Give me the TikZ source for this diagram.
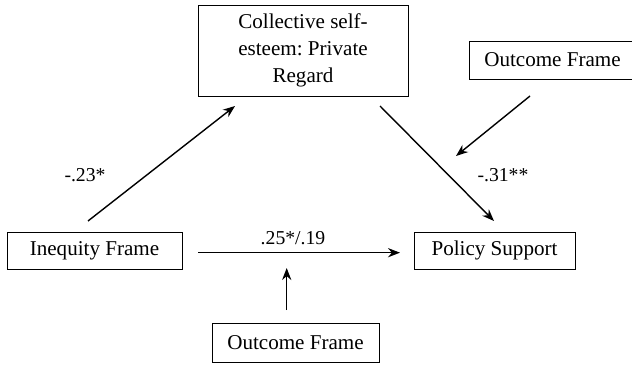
\documentclass[tikz,border=0pt]{standalone}
\usepackage{fontspec}
\setmainfont{Liberation Serif}
\usetikzlibrary{arrows.meta}
\frenchspacing

\begin{document}
\begin{tikzpicture}
\tikzstyle{every node}=[font=\fontsize{15}{19}\selectfont]
\tikzstyle{framebox}=[draw, line width=0.6pt, inner sep=0pt, align=center]
\tikzstyle{coef}=[font=\fontsize{14}{17}\selectfont]
\tikzstyle{path}=[->, >={Stealth[length=3mm,width=2.3mm]}, line width=1pt]
\useasboundingbox (0,0) rectangle (15.8,9.15);
\node [framebox, minimum width=5.25cm, minimum height=2.275cm] (esteem) at (7.575,7.8875) {Collective self-\\esteem: Private\\Regard};
\node [framebox, minimum width=4.175cm, minimum height=0.95cm] (outcometop) at (13.8125,7.65) {Outcome Frame};
\node [framebox, minimum width=4.375cm, minimum height=0.925cm] (inequity) at (2.3625,2.8875) {Inequity Frame};
\node [framebox, minimum width=4.025cm, minimum height=0.925cm] (policy) at (12.3625,2.8875) {Policy Support};
\node [framebox, minimum width=4.175cm, minimum height=0.975cm] (outcomebot) at (7.3875,0.5875) {Outcome Frame};
\coordinate (inequp) at (2.2,3.625);
\coordinate (esteemleft) at (5.875,6.5);
\coordinate (esteemright) at (9.5,6.5);
\coordinate (policyup) at (12.35,3.625);
\coordinate (outtopstart) at (13.25,6.75);
\coordinate (outtopend) at (11.4,5.25);
\coordinate (ineqright) at (4.95,2.833);
\coordinate (policyleft) at (10,2.833);
\coordinate (outbotstart) at (7.1675,1.4);
\coordinate (outbotend) at (7.1675,2.45);
\draw [path] (inequp) -- (esteemleft);
\draw [path] (esteemright) -- (policyup);
\draw [path] (outtopstart) -- (outtopend);
\draw [path] (ineqright) -- (policyleft);
\draw [path] (outbotstart) -- (outbotend);
\node [coef] (aval) at (2.125,4.775) {-.23*};
\node [coef] (bval) at (12.575,4.775) {-.31**};
\node [coef] (cval) at (7.325,3.2) {.25*/.19};
\end{tikzpicture}
\end{document}
